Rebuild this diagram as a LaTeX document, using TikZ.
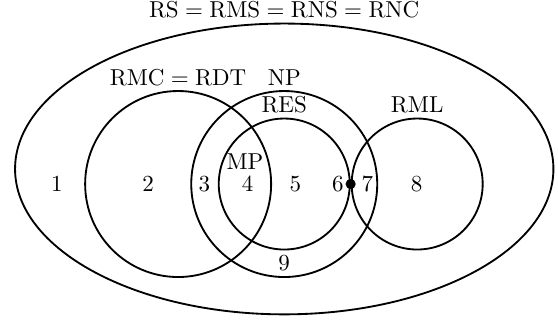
\documentclass[tikz,border=0pt]{standalone}
\usepackage{tikz}
\usetikzlibrary{shapes,positioning}

\begin{document}
\begin{tikzpicture}
[
  set/.style={circle, draw, thick, minimum size=#1, inner sep=0pt},
  set name/.style={label={[label distance=-1.5pt]above:{#1}}},
  my dot/.style={circle, fill, minimum width=4.4pt, inner sep=0pt}
]
\useasboundingbox (-4.34,-2.14) rectangle (4.18,2.81);

\node (all) [ellipse, draw, thick, minimum width=8.22cm, minimum height=4.44cm, inner sep=0pt,
  set name={$\mathrm{RS}=\mathrm{RMS}=\mathrm{RNS}=\mathrm{RNC}$}] at (0,0.23) {};
\node (rmc) [set=2.84cm, set name={$\mathrm{RMC}=\mathrm{RDT}$}] at (-1.62,0) {};
\node (np) [set=2.84cm, set name=NP] at (0,0) {};
\node (res) [set=2cm, set name=RES] at (0,0) {};
\node (rml) [set=2cm, set name=RML] at (2.03,0) {};
\node (touch) [my dot] at (res.east) {};

\foreach \n/\x in {1/-3.47,2/-2.08,3/-1.22,4/-0.56,5/0.17,6/0.82,7/1.27,8/2.02}
  \node (r\n) at (\x,0) {\n};
\node (r9) at (0,-1.21) {9};
\node (mp) at (-0.6,0.34) {MP};
\end{tikzpicture}
\end{document}
